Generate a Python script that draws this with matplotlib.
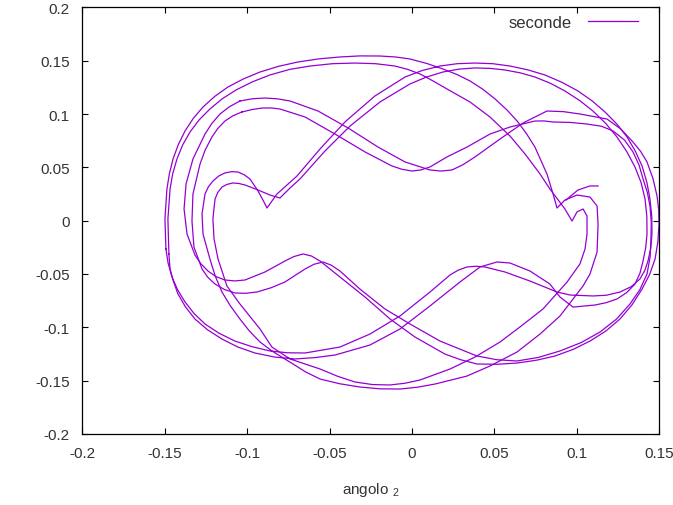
import numpy as np
import matplotlib
matplotlib.use("Agg")
from matplotlib import pyplot as plt

plt.rcParams['font.family'] = ['Liberation Sans', 'DejaVu Sans']
plt.rcParams['mathtext.fontset'] = 'custom'
plt.rcParams['mathtext.rm'] = 'Liberation Sans'
plt.rcParams['mathtext.default'] = 'regular'

# Traiettoria "seconde", a tratti (x = angolo 2)
s_loop1 = np.array([
    (-0.1044, 0.1122), (-0.0968, 0.1143), (-0.0892, 0.1150), (-0.0815, 0.1142), (-0.0740, 0.1122),
    (-0.0570, 0.1028), (-0.0388, 0.0869), (-0.0206, 0.0690), (-0.0042, 0.0550), (0.0109, 0.0475),
    (0.0176, 0.0465), (0.0243, 0.0475), (0.0310, 0.0525), (0.0382, 0.0597), (0.0534, 0.0765),
    (0.0674, 0.0916), (0.0819, 0.1028), (0.0920, 0.1022), (0.1019, 0.1000), (0.1183, 0.0953),
    (0.1268, 0.0858), (0.1341, 0.0737), (0.1388, 0.0648), (0.1426, 0.0550), (0.1462, 0.0395),
    (0.1487, 0.0231), (0.1497, 0.0100), (0.1499, -0.0032), (0.1492, -0.0198), (0.1475, -0.0360),
    (0.1442, -0.0505), (0.1396, -0.0642), (0.1335, -0.0790), (0.1262, -0.0923), (0.1177, -0.1035),
    (0.1080, -0.1130), (0.0978, -0.1208), (0.0868, -0.1270), (0.0754, -0.1310), (0.0637, -0.1336),
    (0.0515, -0.1348), (0.0394, -0.1345), (0.0295, -0.1305), (0.0200, -0.1252), (0.0018, -0.1092),
    (-0.0133, -0.0923), (-0.0285, -0.0717), (-0.0437, -0.0529), (-0.0558, -0.0379), (-0.0610, -0.0332),
    (-0.0661, -0.0313), (-0.0716, -0.0337), (-0.0771, -0.0379), (-0.0892, -0.0482), (-0.1013, -0.0557),
    (-0.1075, -0.0566), (-0.1135, -0.0557), (-0.1190, -0.0525), (-0.1238, -0.0473), (-0.1282, -0.0403),
    (-0.1317, -0.0323), (-0.1365, -0.0126), (-0.1383, 0.0109), (-0.1371, 0.0343), (-0.1329, 0.0578),
    (-0.1256, 0.0812), (-0.1214, 0.0912), (-0.1165, 0.1000), (-0.1108, 0.1068), (-0.1044, 0.1122),
])

s_loop2 = np.array([
    (-0.1032, 0.1019), (-0.0970, 0.1042), (-0.0910, 0.1056), (-0.0855, 0.1057), (-0.0801, 0.1047),
    (-0.0649, 0.0972), (-0.0467, 0.0812), (-0.0285, 0.0644), (-0.0121, 0.0512), (-0.0062, 0.0482),
    (0.0000, 0.0465), (0.0053, 0.0475), (0.0109, 0.0503), (0.0212, 0.0597), (0.0334, 0.0690),
    (0.0473, 0.0812), (0.0595, 0.0878), (0.0746, 0.0934), (0.0800, 0.0935), (0.0856, 0.0925),
    (0.0960, 0.0921), (0.1062, 0.0906), (0.1150, 0.0885), (0.1220, 0.0841), (0.1290, 0.0755),
    (0.1341, 0.0644), (0.1378, 0.0520), (0.1402, 0.0390), (0.1428, 0.0265), (0.1444, 0.0137),
    (0.1452, -0.0015), (0.1450, -0.0173), (0.1445, -0.0340), (0.1426, -0.0501), (0.1383, -0.0647),
    (0.1323, -0.0782), (0.1240, -0.0925), (0.1141, -0.1045), (0.1025, -0.1145), (0.0898, -0.1223),
    (0.0768, -0.1283), (0.0637, -0.1317), (0.0515, -0.1305), (0.0394, -0.1270), (0.0170, -0.1130),
    (-0.0012, -0.0970), (-0.0164, -0.0829), (-0.0316, -0.0642), (-0.0437, -0.0473), (-0.0490, -0.0418),
    (-0.0540, -0.0388), (-0.0595, -0.0410), (-0.0649, -0.0454), (-0.0771, -0.0576), (-0.0855, -0.0630),
    (-0.0941, -0.0670), (-0.1010, -0.0682), (-0.1074, -0.0679), (-0.1140, -0.0645), (-0.1195, -0.0595),
    (-0.1240, -0.0530), (-0.1274, -0.0454), (-0.1323, -0.0248), (-0.1335, -0.0004), (-0.1329, 0.0250),
    (-0.1286, 0.0531), (-0.1255, 0.0662), (-0.1214, 0.0784), (-0.1178, 0.0865), (-0.1135, 0.0934),
    (-0.1087, 0.0983), (-0.1032, 0.1019),
])

d_loop1 = np.array([
    (-0.1493, -0.0266), (-0.1499, 0.0015), (-0.1487, 0.0296), (-0.1472, 0.0440), (-0.1450, 0.0578),
    (-0.1418, 0.0713), (-0.1377, 0.0841), (-0.1327, 0.0959), (-0.1268, 0.1066), (-0.1197, 0.1165),
    (-0.1117, 0.1253), (-0.1023, 0.1329), (-0.0922, 0.1394), (-0.0810, 0.1447), (-0.0692, 0.1488),
    (-0.0566, 0.1517), (-0.0437, 0.1535), (-0.0315, 0.1545), (-0.0194, 0.1544), (-0.0100, 0.1535),
    (-0.0012, 0.1516), (0.0090, 0.1474), (0.0188, 0.1422), (0.0272, 0.1371), (0.0352, 0.1310),
    (0.0431, 0.1231), (0.0504, 0.1141), (0.0577, 0.1037), (0.0643, 0.0925), (0.0697, 0.0810),
    (0.0746, 0.0690), (0.0819, 0.0437), (0.0856, 0.0250), (0.0880, 0.0118), (0.0928, 0.0193),
    (0.1001, 0.0240), (0.1080, 0.0221), (0.1123, 0.0137), (0.1129, -0.0032), (0.1123, -0.0295),
    (0.1080, -0.0501), (0.1038, -0.0613), (0.0898, -0.0895), (0.0777, -0.1064), (0.0637, -0.1233),
    (0.0473, -0.1364), (0.0334, -0.1458), (0.0140, -0.1533), (0.0033, -0.1563), (-0.0073, -0.1580),
    (-0.0195, -0.1578), (-0.0316, -0.1561), (-0.0440, -0.1530), (-0.0558, -0.1486), (-0.0645, -0.1420),
    (-0.0722, -0.1345), (-0.0850, -0.1223), (-0.0922, -0.1139), (-0.0987, -0.1035), (-0.1044, -0.0923),
    (-0.1102, -0.0800), (-0.1153, -0.0670), (-0.1195, -0.0515), (-0.1226, -0.0360), (-0.1268, -0.0126),
    (-0.1274, 0.0062), (-0.1256, 0.0250), (-0.1235, 0.0318), (-0.1208, 0.0371), (-0.1173, 0.0418),
    (-0.1135, 0.0447), (-0.1095, 0.0459), (-0.1056, 0.0456), (-0.1018, 0.0430), (-0.0983, 0.0390),
    (-0.0934, 0.0278), (-0.0898, 0.0174), (-0.0880, 0.0118), (-0.0819, 0.0250), (-0.0698, 0.0418),
    (-0.0558, 0.0672), (-0.0407, 0.0925), (-0.0225, 0.1169), (-0.0042, 0.1347), (0.0062, 0.1408),
    (0.0170, 0.1450), (0.0275, 0.1472), (0.0382, 0.1478), (0.0490, 0.1472), (0.0595, 0.1450),
    (0.0703, 0.1414), (0.0807, 0.1366), (0.0910, 0.1297), (0.1007, 0.1216), (0.1093, 0.1123),
    (0.1171, 0.1019), (0.1243, 0.0906), (0.1305, 0.0784), (0.1355, 0.0652), (0.1396, 0.0512),
    (0.1425, 0.0360), (0.1444, 0.0203), (0.1455, 0.0038), (0.1456, -0.0126), (0.1449, -0.0255),
    (0.1432, -0.0379), (0.1412, -0.0470), (0.1383, -0.0548), (0.1330, -0.0620), (0.1262, -0.0670),
    (0.1180, -0.0700), (0.1098, -0.0707), (0.0959, -0.0698), (0.0880, -0.0670), (0.0716, -0.0567),
    (0.0564, -0.0482), (0.0443, -0.0435), (0.0388, -0.0428), (0.0334, -0.0435), (0.0280, -0.0465),
    (0.0231, -0.0510), (0.0109, -0.0670), (-0.0073, -0.0895), (-0.0255, -0.1064), (-0.0437, -0.1186),
    (-0.0649, -0.1242), (-0.0755, -0.1240), (-0.0862, -0.1223), (-0.0970, -0.1183), (-0.1074, -0.1130),
    (-0.1170, -0.1057), (-0.1256, -0.0970), (-0.1322, -0.0872), (-0.1377, -0.0764), (-0.1422, -0.0650),
    (-0.1456, -0.0529), (-0.1480, -0.0398), (-0.1493, -0.0266),
])

d_loop2 = np.array([
    (-0.1475, -0.0313), (-0.1481, 0.0015), (-0.1468, 0.0296), (-0.1452, 0.0440), (-0.1426, 0.0578),
    (-0.1392, 0.0708), (-0.1347, 0.0831), (-0.1292, 0.0944), (-0.1226, 0.1047), (-0.1152, 0.1142),
    (-0.1068, 0.1225), (-0.0968, 0.1302), (-0.0862, 0.1366), (-0.0743, 0.1418), (-0.0619, 0.1450),
    (-0.0482, 0.1472), (-0.0346, 0.1478), (-0.0222, 0.1472), (-0.0103, 0.1450), (-0.0025, 0.1418),
    (0.0049, 0.1375), (0.0130, 0.1308), (0.0212, 0.1235), (0.0352, 0.1113), (0.0473, 0.0972),
    (0.0595, 0.0793), (0.0686, 0.0625), (0.0777, 0.0437), (0.0837, 0.0296), (0.0928, 0.0109),
    (0.0971, -0.0004), (0.1001, 0.0081), (0.1038, 0.0109), (0.1062, 0.0043), (0.1062, -0.0126),
    (0.1050, -0.0266), (0.1019, -0.0407), (0.0941, -0.0576), (0.0795, -0.0829), (0.0655, -0.0998),
    (0.0534, -0.1139), (0.0382, -0.1280), (0.0231, -0.1392), (0.0049, -0.1495), (-0.0040, -0.1525),
    (-0.0133, -0.1542), (-0.0240, -0.1538), (-0.0346, -0.1514), (-0.0452, -0.1460), (-0.0558, -0.1392),
    (-0.0740, -0.1298), (-0.0850, -0.1186), (-0.0922, -0.1017), (-0.1044, -0.0782), (-0.1123, -0.0613),
    (-0.1177, -0.0360), (-0.1201, -0.0173), (-0.1208, 0.0015), (-0.1195, 0.0203), (-0.1178, 0.0265),
    (-0.1153, 0.0315), (-0.1122, 0.0340), (-0.1086, 0.0353), (-0.1050, 0.0348), (-0.1013, 0.0334),
    (-0.0934, 0.0287), (-0.0862, 0.0240), (-0.0801, 0.0212), (-0.0740, 0.0306), (-0.0680, 0.0390),
    (-0.0528, 0.0653), (-0.0376, 0.0887), (-0.0194, 0.1113), (-0.0012, 0.1282), (0.0085, 0.1345),
    (0.0188, 0.1394), (0.0285, 0.1421), (0.0382, 0.1432), (0.0474, 0.1428), (0.0564, 0.1413),
    (0.0657, 0.1386), (0.0746, 0.1347), (0.0840, 0.1288), (0.0928, 0.1216), (0.1017, 0.1127),
    (0.1098, 0.1028), (0.1176, 0.0911), (0.1244, 0.0784), (0.1303, 0.0648), (0.1353, 0.0503),
    (0.1390, 0.0357), (0.1414, 0.0203), (0.1425, 0.0040), (0.1426, -0.0126), (0.1418, -0.0255),
    (0.1402, -0.0379), (0.1383, -0.0495), (0.1353, -0.0595), (0.1303, -0.0675), (0.1244, -0.0735),
    (0.1178, -0.0770), (0.1110, -0.0792), (0.0977, -0.0811), (0.0898, -0.0717), (0.0837, -0.0595),
    (0.0716, -0.0473), (0.0595, -0.0398), (0.0516, -0.0388), (0.0413, -0.0435), (0.0291, -0.0576),
    (0.0109, -0.0801), (-0.0073, -0.1017), (-0.0255, -0.1167), (-0.0467, -0.1261), (-0.0588, -0.1285),
    (-0.0710, -0.1298), (-0.0833, -0.1280), (-0.0953, -0.1242), (-0.1058, -0.1185), (-0.1153, -0.1111),
    (-0.1240, -0.1025), (-0.1317, -0.0923), (-0.1375, -0.0808), (-0.1420, -0.0688), (-0.1448, -0.0568),
    (-0.1468, -0.0454), (-0.1475, -0.0313),
])

tail = np.array([(0.0934, 0.0193), (0.1007, 0.0287), (0.1080, 0.0325), (0.1129, 0.0325)])

x_ticks = [-0.2, -0.15, -0.1, -0.05, 0, 0.05, 0.1, 0.15]
x_labels = ['-0.2', '-0.15', '-0.1', '-0.05', '0', '0.05', '0.1', '0.15']
y_ticks = [-0.2, -0.15, -0.1, -0.05, 0, 0.05, 0.1, 0.15, 0.2]
y_labels = ['-0.2', '-0.15', '-0.1', '-0.05', '0', '0.05', '0.1', '0.15', '0.2']

COLORE = '#9400D3'

fig = plt.figure(figsize=(6.73, 5.06), dpi=100)
ax = fig.add_axes([0.1224, 0.1407, 0.8571, 0.8427])

pezzi = [s_loop1, s_loop2, d_loop1, d_loop2, tail]
for i, p in enumerate(pezzi):
    ax.plot(p[:, 0], p[:, 1], color=COLORE, lw=0.9,
            label='seconde' if i == 0 else None)

ax.set_xlim(-0.2, 0.15)
ax.set_ylim(-0.2, 0.2)
ax.set_xticks(x_ticks)
ax.set_xticklabels(x_labels)
ax.set_yticks(y_ticks)
ax.set_yticklabels(y_labels)
ax.tick_params(direction='in', length=4.5, width=0.8, top=True, right=True,
               labelsize=11, labelcolor='#333333', pad=9)
for s in ax.spines.values():
    s.set_linewidth(0.9)
ax.set_xlabel('angolo $_2$', fontsize=11, color='#333333', labelpad=14)

ax.legend(loc='upper right', bbox_to_anchor=(0.9632, 0.9815), frameon=False,
          markerfirst=False, fontsize=12, handlelength=3.0, handletextpad=1.0,
          borderaxespad=0, borderpad=0, labelcolor='#333333')

fig.savefig('out.png', dpi=100)
